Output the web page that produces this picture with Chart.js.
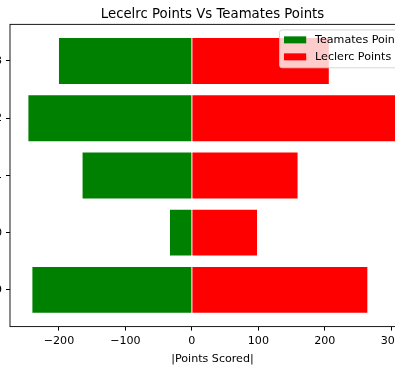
<!DOCTYPE html>
<html>
<head>
<meta charset="utf-8">
<script src="https://cdn.jsdelivr.net/npm/chart.js@4.4.0/dist/chart.umd.min.js"></script>
<style>
  html, body { margin: 0; padding: 0; background: #fff; overflow: hidden; }
  #wrap { position: relative; width: 395px; height: 374px; overflow: hidden; }
  #chart { position: absolute; left: -40px; top: 0; }
</style>
</head>
<body>
<div id="wrap"><canvas id="chart" width="470" height="374"></canvas></div>
<script>
// data (2019 at the bottom)
const years = ['2019', '2020', '2021', '2022', '2023'];
const leclercPoints = [264, 98, 159, 308, 206];
const teamatesPoints = [240, 33, 164.5, 246, 200];
const xTicks = [-200, -100, 0, 100, 200, 300];

const FONT = 'DejaVu Sans';

// matplotlib style limits: 5% margin around the bars
const lo = -Math.max(...teamatesPoints), hi = Math.max(...leclercPoints);
const xPad = (hi - lo) * 0.05;
const yPad = (years.length - 1 + 0.8) * 0.05;

// spines all round the plot, like matplotlib
const spines = {
	id: 'spines',
	afterDatasetsDraw(chart) {
		const {ctx, chartArea: a} = chart;
		ctx.save();
		ctx.strokeStyle = '#000';
		ctx.lineWidth = 0.9;
		ctx.strokeRect(a.left, a.top, a.right - a.left, a.bottom - a.top);
		ctx.restore();
	}
};

// legend box sitting inside the axes, upper right
const legendBox = {
	id: 'legendBox',
	afterDraw(chart) {
		const {ctx, chartArea} = chart;
		const fs = 11.1;
		ctx.save();
		ctx.font = fs + 'px "' + FONT + '"';
		let items = chart.data.datasets;
		let textW = Math.max(...items.map(function(d){ return ctx.measureText(d.label).width }));
		let pad = 0.4 * fs, hl = 2 * fs, gap = 0.8 * fs, rowH = 12, sp = 5;
		let w = pad * 2 + hl + gap + textW;
		let h = pad * 2 + rowH * items.length + sp * (items.length - 1);
		let right = chartArea.right - 0.5 * fs;
		let left = right - w, top = chartArea.top + 0.5 * fs;

		ctx.beginPath();
		ctx.roundRect(left, top, w, h, 2.5);
		ctx.fillStyle = 'rgba(255,255,255,0.8)';
		ctx.fill();
		ctx.strokeStyle = 'rgba(204,204,204,0.8)';
		ctx.lineWidth = 1;
		ctx.stroke();

		items.forEach(function(d, i){
			let cy = top + pad + rowH / 2 + i * (rowH + sp);
			ctx.fillStyle = d.backgroundColor;
			ctx.fillRect(left + pad, cy - 4, hl, 7);
			ctx.fillStyle = '#000';
			ctx.textBaseline = 'middle';
			ctx.fillText(d.label, left + pad + hl + gap, cy);
		});
		ctx.restore();
	}
};

let tickFont = {family: FONT, size: 11.1};

let chart = new Chart(document.getElementById('chart'), {
	type: 'bar',
	data: {
		datasets: [{
			label: 'Teamates Points',
			data: teamatesPoints.map(function(v, i){ return {x: -v, y: i} }),
			backgroundColor: 'green',
			borderWidth: 0,
			barPercentage: 0.8,
			categoryPercentage: 1
		}, {
			label: 'Leclerc Points',
			data: leclercPoints.map(function(v, i){ return {x: v, y: i} }),
			backgroundColor: 'red',
			borderWidth: 0,
			barPercentage: 0.8,
			categoryPercentage: 1
		}]
	},
	options: {
		indexAxis: 'y',
		responsive: false,
		animation: false,
		layout: {padding: {left: 0, right: 15, top: 0, bottom: 0}},
		plugins: {
			legend: {display: false},
			tooltip: {enabled: false},
			title: {
				display: true,
				fullSize: false,
				text: 'Lecelrc Points Vs Teamates Points',
				color: '#000',
				font: {family: FONT, size: 13.3, weight: 'normal', lineHeight: 1.2},
				padding: {top: 6.5, bottom: 1.9}
			}
		},
		scales: {
			x: {
				type: 'linear',
				stacked: true,
				min: lo - xPad,
				max: hi + xPad,
				afterBuildTicks: function(s){ s.ticks = xTicks.map(function(v){ return {value: v} }) },
				afterFit: function(s){ s.height = 47.4 },
				border: {display: false},
				grid: {drawOnChartArea: false, drawTicks: true, tickLength: 4, tickColor: '#000', tickWidth: 1},
				ticks: {
					color: '#000', font: tickFont, padding: 4, maxRotation: 0,
					callback: function(v){ return v < 0 ? '\u2212' + Math.abs(v) : String(v) }
				},
				title: {display: true, text: '|Points Scored|', color: '#000', font: tickFont, padding: {top: 4, bottom: 8}}
			},
			y: {
				type: 'linear',
				stacked: true,
				offset: false,
				min: -0.4 - yPad,
				max: years.length - 1 + 0.4 + yPad,
				afterBuildTicks: function(s){ s.ticks = years.map(function(y, i){ return {value: i} }) },
				afterFit: function(s){ s.width = 50 },
				border: {display: false},
				grid: {offset: false, drawOnChartArea: false, drawTicks: true, tickLength: 4, tickColor: '#000', tickWidth: 1},
				ticks: {
					color: '#000', font: tickFont, padding: 4,
					callback: function(v){ return years[v] }
				}
			}
		}
	},
	plugins: [spines, legendBox]
});
</script>
</body>
</html>
